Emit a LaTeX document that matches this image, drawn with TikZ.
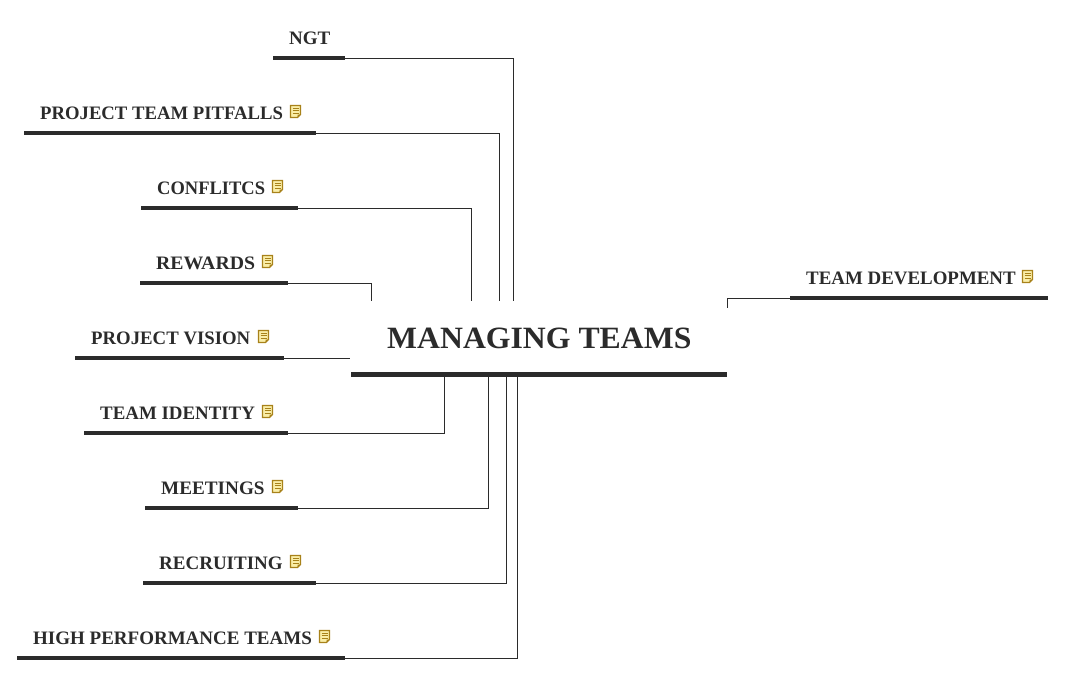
\documentclass[tikz,border=0pt]{standalone}
\usepackage{fontspec}
\setmainfont{Liberation Serif}
\definecolor{inkgrey}{HTML}{2B2B2B}
\definecolor{notefill}{HTML}{FAEEA8}
\definecolor{noteedge}{HTML}{A8821A}
\tikzset{
  topicdecorate/.style={anchor=south west,inner sep=0pt,outer sep=0pt,minimum height=28pt,text=inkgrey},
  labeldecorate/.style={anchor=base west,inner sep=0pt,text=inkgrey,transform shape,font=\fontsize{19}{19}\selectfont\bfseries},
  bardecorate/.style={-,draw=inkgrey,line width=4pt},
  linedecorate/.style={-,draw=inkgrey,line width=0.7pt},
  notemark/.pic={
    \fill[notefill,draw=noteedge,line width=1.1pt] (-5,-6) -- (5,-6) -- (5,3) -- (2,6) -- (-5,6) -- cycle;
    \fill[noteedge] (5,3) -- (2,3) -- (2,6) -- cycle;
    \foreach \yy in {-3.5,-1,1.5}
      \draw[noteedge,line width=0.8pt] (-3,\yy) -- (3,\yy);
  }
}
\begin{document}
\begin{tikzpicture}[x=1pt,y=-1pt]
\useasboundingbox (0,0) rectangle (1066,675);
%% main topic
\node (main) at (351,374.5) [topicdecorate,anchor=south west,minimum width=376pt,minimum height=74pt] {};
\node (mainlabel) at (387,348) [labeldecorate,xscale=1.024,font=\fontsize{31}{31}\selectfont\bfseries] {MANAGING TEAMS};
\draw[bardecorate,line width=4.5pt] (main.south west) -- (main.south east);
%% connector ends on the main topic
\foreach \endname/\x/\y in {ngtend/513.5/300.5, pitfallsend/499.5/300.5, conflictsend/471.5/300.5, rewardsend/371.7/300.5,
  visionend/350/358, identityend/444.7/376, meetingsend/488.2/376, recruitingend/506.2/376, highend/517/376, developend/727/308} {
  \coordinate (\endname) at (\x,\y);
}
%% topics with a note mark
\foreach \nodename/\topictext/\xa/\xb/\y/\xtext/\xnote/\stretch in {
  pitfalls/PROJECT TEAM PITFALLS/24/316/133/40/295.5/.984,
  conflicts/CONFLITCS/141/298/208/157/277.5/.973,
  rewards/REWARDS/140/288/283/156/267.5/1.04,
  vision/PROJECT VISION/75/284/358/91/263.5/.988,
  identity/TEAM IDENTITY/84/288/433/100/267.5/.994,
  meetings/MEETINGS/145/298/508/161/277.5/1.01,
  recruiting/RECRUITING/143/316/583/159/295.5/1,
  high/HIGH PERFORMANCE TEAMS/17/345/658/33/324.5/1,
  develop/TEAM DEVELOPMENT/790/1048/298/806/1027.5/.995} {
  \pgfmathsetmacro{\barlength}{\xb-\xa}
  \node (\nodename) at (\xa,\y) [topicdecorate,minimum width=\barlength pt] {};
  \node (\nodename label) at (\xtext,\y-14) [labeldecorate,xscale=\stretch] {\topictext};
  \pic at (\xnote,\y-21.5) {notemark};
  \draw[bardecorate] (\nodename.south west) -- (\nodename.south east);
}
%% topic without a note mark
\node (ngt) at (273,58) [topicdecorate,minimum width=72pt] {};
\node (ngtlabel) at (289,44) [labeldecorate] {NGT};
\draw[bardecorate] (ngt.south west) -- (ngt.south east);
%% connectors
\foreach \startnode/\endnode in {ngt/ngtend, pitfalls/pitfallsend, conflicts/conflictsend, rewards/rewardsend,
  identity/identityend, meetings/meetingsend, recruiting/recruitingend, high/highend} {
  \draw[linedecorate] (\startnode.south east) -| (\endnode);
}
\draw[linedecorate] (vision.south east) -- (visionend);
\draw[linedecorate] (develop.south west) -| (developend);
\end{tikzpicture}
\end{document}
